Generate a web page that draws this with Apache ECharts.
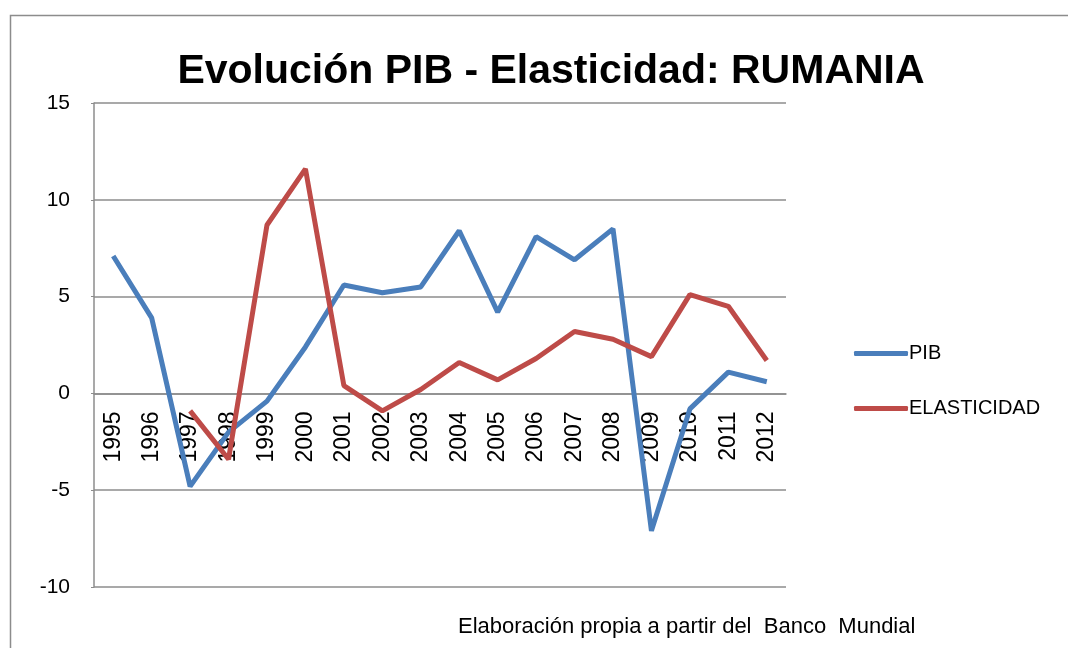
<!DOCTYPE html>
<html>
<head>
<meta charset="utf-8">
<script src="https://cdn.jsdelivr.net/npm/echarts@6/dist/echarts.min.js"></script>
<style>
  html, body { margin: 0; padding: 0; background: #fff; }
  #chart { width: 1068px; height: 648px; }
</style>
</head>
<body>
<div id="chart"></div>
<script>
// datos
const years = ['1995', '1996', '1997', '1998', '1999', '2000', '2001', '2002', '2003',
  '2004', '2005', '2006', '2007', '2008', '2009', '2010', '2011', '2012']
const pib = [7.1, 3.9, -4.8, -2.0, -0.4, 2.4, 5.6, 5.2, 5.5,
  8.4, 4.2, 8.1, 6.9, 8.5, -7.1, -0.8, 1.1, 0.6]
const elasticidad = [null, null, -0.9, -3.4, 8.7, 11.6, 0.4, -0.9, 0.2,
  1.6, 0.7, 1.8, 3.2, 2.8, 1.9, 5.1, 4.5, 1.7]
const yTicks = { min: -10, max: 15, step: 5 }

const gridColor = '#8c8c8c'
const font = 'Liberation Sans, Arial, sans-serif'

const gridTop = 103
const gridBottom = 61
const plotHeight = 648 - gridTop - gridBottom
// el eje de categorias va sobre el cero
const zeroOffset = -plotHeight * (0 - yTicks.min) / (yTicks.max - yTicks.min)

const chart = echarts.init(document.getElementById('chart'))

const option = {
  backgroundColor: '#fff',
  animation: false,
  title: {
    text: 'Evolución PIB - Elasticidad: RUMANIA',
    left: 546,
    textAlign: 'center',
    top: 46,
    textStyle: { fontFamily: font, fontSize: 41, fontWeight: 'bold', color: '#000' }
  },
  legend: {
    orient: 'vertical',
    left: 849,
    top: 337,
    itemGap: 32,
    itemWidth: 54,
    itemHeight: 5,
    icon: 'roundRect',
    textStyle: { fontFamily: font, fontSize: 20, lineHeight: 23, color: '#000', padding: [0, 0, 0, -4] },
    data: ['PIB', 'ELASTICIDAD']
  },
  grid: { left: 94, right: 282, top: gridTop, bottom: gridBottom },
  xAxis: {
    type: 'category',
    data: years,
    boundaryGap: true,
    offset: zeroOffset,
    axisLine: { onZero: false, lineStyle: { color: gridColor, width: 1.5 } },
    axisTick: { show: false },
    axisLabel: {
      rotate: 90,
      margin: 18,
      interval: 0,
      fontFamily: font,
      fontSize: 23,
      color: '#000'
    }
  },
  yAxis: {
    type: 'value',
    min: yTicks.min,
    max: yTicks.max,
    interval: yTicks.step,
    axisLine: { show: true, lineStyle: { color: gridColor, width: 1.5 } },
    axisTick: { show: true, length: 3, lineStyle: { color: gridColor } },
    splitLine: { lineStyle: { color: gridColor, width: 1.5 } },
    axisLabel: { margin: 24, fontFamily: font, fontSize: 21, color: '#000' }
  },
  series: [
    {
      name: 'PIB',
      type: 'line',
      data: pib,
      symbol: 'none',
      color: '#4a7ebb',
      lineStyle: { width: 5, color: '#4a7ebb' }
    },
    {
      name: 'ELASTICIDAD',
      type: 'line',
      data: elasticidad,
      symbol: 'none',
      color: '#be4b48',
      lineStyle: { width: 5, color: '#be4b48' }
    }
  ],
  graphic: [
    {
      type: 'rect',
      left: 8,
      top: 13,
      shape: { width: 1200, height: 800 },
      style: { fill: 'none', stroke: gridColor, lineWidth: 1.5 },
      silent: true
    },
    {
      type: 'text',
      left: 458,
      top: 616,
      style: {
        text: 'Elaboración propia a partir del  Banco  Mundial',
        font: '22px ' + font,
        fill: '#000'
      }
    }
  ]
}

chart.setOption(option)
</script>
</body>
</html>
